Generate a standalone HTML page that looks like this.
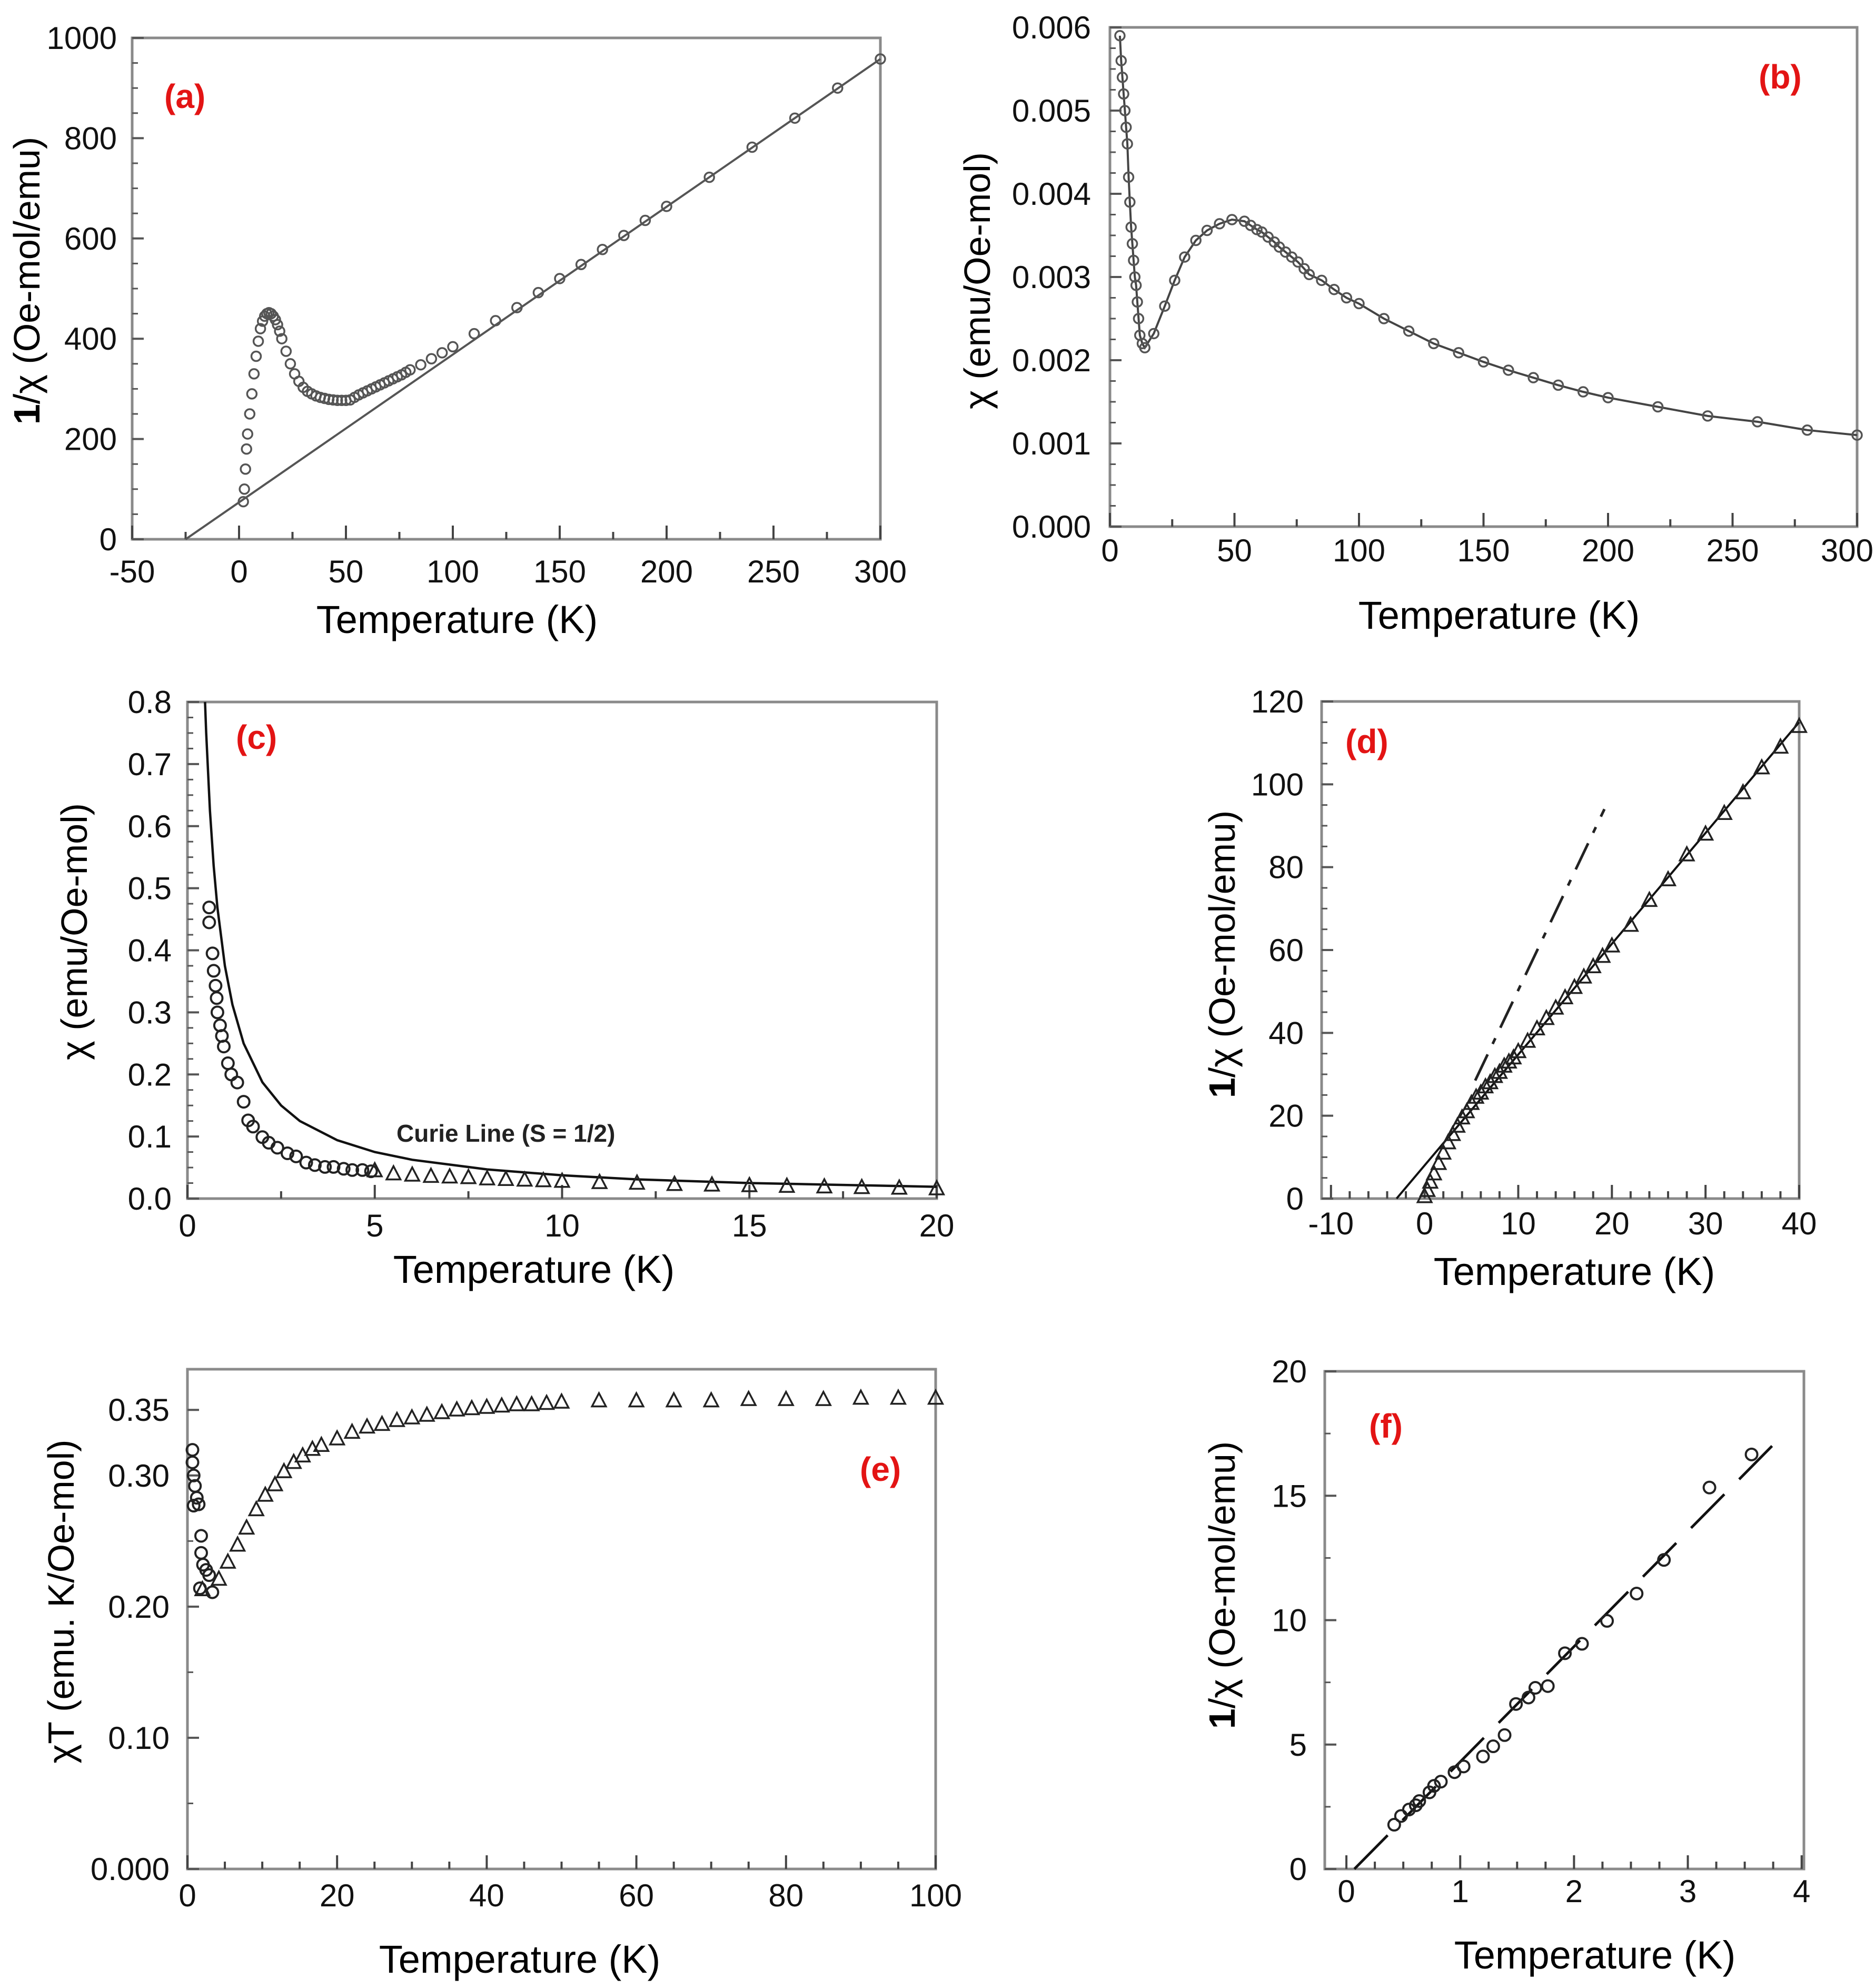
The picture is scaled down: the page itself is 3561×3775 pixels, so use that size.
<!DOCTYPE html>
<html><head><meta charset="utf-8">
<style>
html,body{margin:0;padding:0;background:#fff;}
svg{display:block;}
text{font-family:"Liberation Sans",sans-serif;}
</style></head>
<body>
<svg id="fig" xmlns="http://www.w3.org/2000/svg" width="3561" height="3775" viewBox="0 0 3561 3775"></svg>
<script>
// ---- (a) data ----
const aT = [2,2.5,3,3.5,4,5,6,7,8,9,10,11,12,13,14,15,16,17,18,19,20,22,24,26,28,30,32,34,36,38,40,42,44,46,48,50,52,54,56,58,60,62,64,66,68,70,72,74,76,78,80,85,90,95,100,110,120,130,140,150,160,170,180,190,200,220,240,260,280,300];
const aY = [75,100,140,180,210,250,290,330,365,395,420,435,445,450,452,450,445,438,428,415,400,375,350,330,315,303,295,290,286,283,281,279,278,277,277,277,278,283,288,292,296,300,304,308,312,316,320,324,328,333,338,348,360,372,384,410,436,462,492,520,548,578,606,636,664,722,782,840,900,958];
const aLineT = [-25,300];
const aLineY = [0,958];
const aXTicks = [-50,0,50,100,150,200,250,300];
const aYTicks = [0,200,400,600,800,1000];
// ---- (b) data ----
const bT = [4,4.5,5,5.5,6,6.5,7,7.5,8,8.5,9,9.5,10,10.5,11,11.5,12,13,14,17.6,22,26,30,34.5,39,44,49,54,56.5,59,61,63.5,66,68,70.5,73,75.5,78,80,85,90,95,100,110,120,130,140,150,160,170,180,190,200,220,240,260,280,300];
const bY = [0.0059,0.0056,0.0054,0.0052,0.0050,0.0048,0.0046,0.0042,0.0039,0.0036,0.0034,0.0032,0.0030,0.0029,0.0027,0.0025,0.0023,0.0022,0.00215,0.00232,0.00265,0.00296,0.00324,0.00344,0.00356,0.00364,0.00369,0.00367,0.00362,0.00357,0.00354,0.00348,0.00342,0.00336,0.0033,0.00324,0.00318,0.0031,0.00303,0.00296,0.00285,0.00275,0.00268,0.0025,0.00235,0.0022,0.00209,0.00198,0.00188,0.00179,0.0017,0.00162,0.00155,0.00144,0.00133,0.00126,0.00116,0.0011];
const bXTicks = [0,50,100,150,200,250,300];
const bYTicks = [0,0.001,0.002,0.003,0.004,0.005,0.006];
// ---- (c) data ----
const cCurieT = [0.47,0.5,0.6,0.7,0.8,1,1.2,1.5,2,2.5,3,4,5,6,8,10,12,15,20];
const cCurieY = [0.8,0.75,0.625,0.536,0.469,0.375,0.3125,0.25,0.1875,0.15,0.125,0.094,0.075,0.0625,0.047,0.0375,0.031,0.025,0.019];
const cCircT = [0.58,0.58,0.67,0.7,0.75,0.78,0.8,0.87,0.92,0.97,1.08,1.17,1.33,1.5,1.62,1.75,2,2.17,2.4,2.67,2.9,3.17,3.4,3.67,3.9,4.17,4.4,4.67,4.9];
const cCircY = [0.469,0.445,0.395,0.367,0.343,0.323,0.3,0.279,0.262,0.245,0.218,0.2,0.187,0.156,0.126,0.116,0.099,0.09,0.082,0.073,0.068,0.058,0.054,0.051,0.051,0.048,0.046,0.046,0.044];
const cTriT = [5,5.5,6,6.5,7,7.5,8,8.5,9,9.5,10,11,12,13,14,15,16,17,18,19,20];
const cTriY = [0.045,0.040,0.038,0.036,0.035,0.034,0.032,0.031,0.030,0.029,0.028,0.026,0.025,0.023,0.022,0.021,0.020,0.019,0.018,0.017,0.016];
const cXTicks = [0,5,10,15,20];
const cYTicks = [0,0.1,0.2,0.3,0.4,0.5,0.6,0.7,0.8];
// ---- (d) data ----
const dT = [0,0.3,0.6,1,1.5,2,2.5,3,3.5,4,4.5,5,5.5,6,6.5,7,7.5,8,8.5,9,9.5,10,11,12,13,14,15,16,17,18,19,20,22,24,26,28,30,32,34,36,38,40];
const dY = [0.5,2,4,6,8.5,11,13.5,15.5,17.5,19.5,21,23,24.5,25.5,27,28,29.5,30.5,32,33,34,35.5,38,41,43.5,46,48.5,51,53.5,56,58.5,61,66,72,77,83,88,93,98,104,109,114];
const dFitT = [-3,40];
const dFitY = [0,115];
const dDashT = [5.4,19.2];
const dDashY = [28.5,94];
const dXTicks = [-10,0,10,20,30,40];
const dYTicks = [0,20,40,60,80,100,120];
// ---- (e) data ----
const eCircT = [0.67,0.67,0.83,1,1.25,1.5,0.83,1.83,1.83,2.08,2.5,2.9,1.67,3.33];
const eCircY = [0.3195,0.31,0.30,0.292,0.283,0.278,0.277,0.254,0.241,0.232,0.228,0.224,0.214,0.211];
const eTriT = [2,4.2,5.4,6.7,7.9,9.2,10.4,11.7,12.9,14.2,15.4,16.7,17.9,20,22,24,26,28,30,32,34,36,38,40,42,44,46,48,50,55,60,65,70,75,80,85,90,95,100];
const eTriY = [0.213,0.221,0.234,0.247,0.26,0.274,0.285,0.293,0.303,0.31,0.315,0.32,0.323,0.328,0.333,0.337,0.339,0.342,0.344,0.346,0.348,0.35,0.351,0.352,0.353,0.354,0.354,0.355,0.356,0.357,0.357,0.357,0.357,0.358,0.358,0.358,0.359,0.359,0.359];
const eXTicks = [0,20,40,60,80,100];
const eYTicks = [0,0.10,0.20,0.30,0.35];
const eYLabels = ["0.000","0.10","0.20","0.30","0.35"];
// ---- (f) data ----
const fT = [0.42,0.48,0.55,0.61,0.64,0.73,0.77,0.83,0.95,1.03,1.2,1.29,1.39,1.49,1.6,1.66,1.77,1.92,2.07,2.29,2.55,2.79,3.19,3.56];
const fY = [1.78,2.13,2.39,2.56,2.73,3.08,3.34,3.51,3.89,4.12,4.52,4.93,5.38,6.63,6.89,7.28,7.35,8.67,9.05,9.97,11.07,12.42,15.33,16.66];
const fFitT = [0.07,3.74];
const fFitY = [0,17];
const fXTicks = [0,1,2,3,4];
const fYTicks = [0,5,10,15,20];

const NS = "http://www.w3.org/2000/svg";
const svg = document.getElementById('fig');
function mk(tag, attrs, parent){
  const e = document.createElementNS(NS, tag);
  for (const k in attrs) e.setAttribute(k, attrs[k]);
  (parent||svg).appendChild(e);
  return e;
}
function scale(d0,d1,r0,r1){ return v => r0 + (v-d0)/(d1-d0)*(r1-r0); }

function panel(P){
  const g = mk('g', {});
  
  
  const X = scale(P.xmin,P.xmax,P.x0,P.x1);
  const Y = scale(P.ymin,P.ymax,P.y1,P.y0);
  const box = mk('rect', {x:P.x0,y:P.y0,width:P.x1-P.x0,height:P.y1-P.y0,fill:'none',stroke:'#8a8a8a','stroke-width':5}, g);
  
  
  for (let v = P.xTickStart; v <= P.xmax + 1e-9; v += P.xTickStep) {
    const isMaj = P.xTicks.some(t => Math.abs(t - v) < 1e-6);
    const t = mk('line', {x1:X(v),x2:X(v),y1:P.y1,y2:P.y1-(isMaj?26:14),stroke:'#444','stroke-width':4}, g);
    
    
  }
  for (let v = P.ymin; v <= P.ymax + 1e-9; v += P.yTickStep) {
    const isMaj = P.yTicks.some(t => Math.abs(t - v) < 1e-9);
    const t = mk('line', {x1:P.x0,x2:P.x0+(isMaj?22:11),y1:Y(v),y2:Y(v),stroke:'#555','stroke-width':isMaj?4:3}, g);
    
    
  }
  P.xTicks.forEach((v,i) => {
    let x = X(v), anchor = 'middle';
    if (x > 3561 - 60) { x = 3558; anchor = 'end'; }
    const t = mk('text', {x:x,y:P.xLabY,'text-anchor':anchor,'font-size':60,fill:'#111'}, g);
    t.textContent = P.xLab ? P.xLab[i] : String(v);
    
    
  });
  P.yTicks.forEach((v,i) => {
    const t = mk('text', {x:P.yLabX,y:Y(v)+21,'text-anchor':'end','font-size':60,fill:'#111'}, g);
    t.textContent = P.yLab ? P.yLab[i] : String(v);
    
    
  });
  const xt = mk('text', {x:P.xTitleX,y:P.xTitleY,'text-anchor':'middle','font-size':74,fill:'#000'}, g);
  xt.textContent = 'Temperature (K)';
  
  
  const yt = mk('text', {x:0,y:0,'text-anchor':'middle','font-size':70,fill:'#000',transform:`translate(${P.yTitleX},${P.yTitleY}) rotate(-90)`}, g);
  yt.innerHTML = P.yTitle;
  
  
  const lb = mk('text', {x:P.labX,y:P.labY,'font-size':64,'font-weight':'bold',fill:'#e31414'}, g);
  lb.textContent = '(' + P.id + ')';
  
  
  return {g, X, Y};
}
function line(pn, xs, ys, attrs, name){
  const pts = xs.map((v,i) => pn.X(v).toFixed(1)+','+pn.Y(ys[i]).toFixed(1)).join(' ');
  const a = Object.assign({points:pts,fill:'none'}, attrs);
  const l = mk('polyline', a, pn.g);
  
  
}
function circles(pn, xs, ys, r, sw, col, name){
  xs.forEach((v,i) => {
    const c = mk('circle', {cx:pn.X(v),cy:pn.Y(ys[i]),r:r,fill:'none',stroke:col,'stroke-width':sw}, pn.g);
    
    
  });
}
function tris(pn, xs, ys, s, sw, name){
  xs.forEach((v,i) => {
    const x = pn.X(v), y = pn.Y(ys[i]);
    const p = mk('path', {d:`M${x},${y-s*0.6} L${x+s*0.55},${y+s*0.45} L${x-s*0.55},${y+s*0.45} Z`,fill:'none',stroke:'#222','stroke-width':sw}, pn.g);
    
    
  });
}

// Panel a
const pa = panel({id:'a',x0:251,x1:1672,y0:72,y1:1024,xmin:-50,xmax:300,ymin:0,ymax:1000,
  xTicks:aXTicks,yTicks:aYTicks,xTickStart:-50,xTickStep:25,yTickStep:50,
  xLabY:1106,yLabX:222,xTitleX:868,xTitleY:1202,yTitleX:75,yTitleY:533,
  yTitle:'<tspan font-weight="bold">1</tspan>/χ (Oe-mol/emu)',labX:312,labY:205});
line(pa, aLineT, aLineY, {stroke:'#555','stroke-width':4}, 'curie-weiss-fit-line');
circles(pa, aT, aY, 9, 3.5, '#555', 'data-point-a');

// Panel b
const pb = panel({id:'b',x0:2108,x1:3527,y0:52,y1:1000,xmin:0,xmax:300,ymin:0,ymax:0.006,
  xTicks:bXTicks,yTicks:bYTicks,xTickStart:0,xTickStep:25,yTickStep:0.00025,
  xLab:bXTicks.map(String),yLab:bYTicks.map(v=>v.toFixed(3)),
  xLabY:1066,yLabX:2072,xTitleX:2847,xTitleY:1194,yTitleX:1880,yTitleY:533,
  yTitle:'χ (emu/Oe-mol)',labX:3340,labY:168});
line(pb, bT, bY, {stroke:'#444','stroke-width':4}, 'fit-curve-b');
circles(pb, bT, bY, 9, 3.5, '#555', 'data-point-b');

// Panel c
const pc = panel({id:'c',x0:356,x1:1779,y0:1333,y1:2276,xmin:0,xmax:20,ymin:0,ymax:0.8,
  xTicks:cXTicks,yTicks:cYTicks,xTickStart:0,xTickStep:2.5,yTickStep:0.025,
  yLab:cYTicks.map(v=>v.toFixed(1)),
  xLabY:2348,yLabX:326,xTitleX:1014,xTitleY:2436,yTitleX:165,yTitleY:1769,
  yTitle:'χ (emu/Oe-mol)',labX:448,labY:1422});
line(pc, cCurieT, cCurieY, {stroke:'#111','stroke-width':4.5}, 'curie-line');
circles(pc, cCircT, cCircY, 11, 4, '#222', 'data-circle-c');
tris(pc, cTriT, cTriY, 24, 3.5, 'data-triangle-c');
const cl = mk('text', {x:753,y:2168,'font-size':46,'font-weight':'bold',fill:'#222'}, pc.g);
cl.textContent = 'Curie Line (S = 1/2)';



// Panel d
const pd = panel({id:'d',x0:2510,x1:3417,y0:1332,y1:2276,xmin:-11,xmax:40,ymin:0,ymax:120,
  xTicks:dXTicks,yTicks:dYTicks,xTickStart:-10,xTickStep:2,yTickStep:5,
  xLabY:2344,yLabX:2476,xTitleX:2990,xTitleY:2440,yTitleX:2345,yTitleY:1812,
  yTitle:'<tspan font-weight="bold">1</tspan>/χ (Oe-mol/emu)',labX:2555,labY:1430});
line(pd, dFitT, dFitY, {stroke:'#111','stroke-width':4}, 'curie-weiss-fit-d');
line(pd, dDashT, dDashY, {stroke:'#222','stroke-width':5,'stroke-dasharray':'55 22 12 22'}, 'dash-dot-line-d');
tris(pd, dT, dY, 24, 3.5, 'data-triangle-d');

// Panel e
const pe = panel({id:'e',x0:356,x1:1777,y0:2600,y1:3549,xmin:0,xmax:100,ymin:0,ymax:0.381,
  xTicks:eXTicks,yTicks:eYTicks,xTickStart:0,xTickStep:5,yTickStep:0.05,
  yLab:eYLabels,
  xLabY:3620,yLabX:322,xTitleX:987,xTitleY:3746,yTitleX:140,yTitleY:3041,
  yTitle:'χT (emu. K/Oe-mol)',labX:1633,labY:2812});
circles(pe, eCircT, eCircY, 11, 4, '#222', 'data-circle-e');
tris(pe, eTriT, eTriY, 24, 3.5, 'data-triangle-e');

// Panel f
const pf = panel({id:'f',x0:2516,x1:3426,y0:2604,y1:3549,xmin:-0.19,xmax:4.02,ymin:0,ymax:20,
  xTicks:fXTicks,yTicks:fYTicks,xTickStart:0,xTickStep:0.25,yTickStep:2.5,
  xLabY:3612,yLabX:2482,xTitleX:3029,xTitleY:3738,yTitleX:2345,yTitleY:3010,
  yTitle:'<tspan font-weight="bold">1</tspan>/χ (Oe-mol/emu)',labX:2600,labY:2730});
line(pf, fFitT, fFitY, {stroke:'#111','stroke-width':5,'stroke-dasharray':'90 40'}, 'dashed-fit-f');
circles(pf, fT, fY, 11, 4, '#222', 'data-circle-f');
</script>
</body></html>
